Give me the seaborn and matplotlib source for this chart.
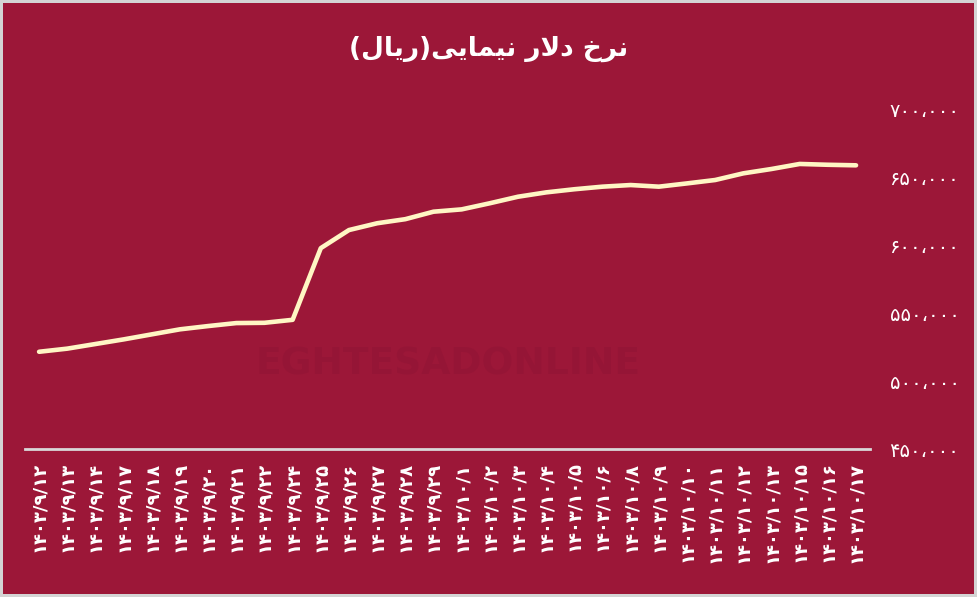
import matplotlib.pyplot as plt
import pandas as pd
import seaborn as sns

# Persian dates (1403/09/12 .. 1403/10/17)
dates = [
    "۱۴۰۳/۹/۱۲", "۱۴۰۳/۹/۱۳", "۱۴۰۳/۹/۱۴", "۱۴۰۳/۹/۱۷", "۱۴۰۳/۹/۱۸",
    "۱۴۰۳/۹/۱۹", "۱۴۰۳/۹/۲۰", "۱۴۰۳/۹/۲۱", "۱۴۰۳/۹/۲۲", "۱۴۰۳/۹/۲۴",
    "۱۴۰۳/۹/۲۵", "۱۴۰۳/۹/۲۶", "۱۴۰۳/۹/۲۷", "۱۴۰۳/۹/۲۸", "۱۴۰۳/۹/۲۹",
    "۱۴۰۳/۱۰/۱", "۱۴۰۳/۱۰/۲", "۱۴۰۳/۱۰/۳", "۱۴۰۳/۱۰/۴", "۱۴۰۳/۱۰/۵",
    "۱۴۰۳/۱۰/۶", "۱۴۰۳/۱۰/۸", "۱۴۰۳/۱۰/۹", "۱۴۰۳/۱۰/۱۰", "۱۴۰۳/۱۰/۱۱",
    "۱۴۰۳/۱۰/۱۲", "۱۴۰۳/۱۰/۱۳", "۱۴۰۳/۱۰/۱۵", "۱۴۰۳/۱۰/۱۶", "۱۴۰۳/۱۰/۱۷",
]
# NIMA dollar rate in rial
rate = [
    521500, 523800, 527200, 530600, 534300, 538000, 540400, 542600, 542800, 545000,
    597700, 611000, 616000, 619000, 624500, 626200, 630700, 635500, 638700, 641000,
    642900, 644100, 642900, 645300, 647800, 652700, 655900, 659600, 659000, 658600,
]
y_ticks = [450000, 500000, 550000, 600000, 650000, 700000]
y_tick_labels = ["۴۵۰،۰۰۰", "۵۰۰،۰۰۰", "۵۵۰،۰۰۰", "۶۰۰،۰۰۰", "۶۵۰،۰۰۰", "۷۰۰،۰۰۰"]

# title "نرخ دلار نیمایی(ریال)" written with presentation forms in visual order
# (matplotlib does no arabic shaping / bidi)
title = ("(" + "\uFEDD\uFE8E\uFEF3\uFEAD" + ")"
         + "\uFEF0\uFEF3\uFE8E\uFEE4\uFEF4\uFEE7" + " "
         + "\uFEAD\uFEFB\uFEA9" + " "
         + "\uFEA5\uFEAE\uFEE7")

bg = "#9C1738"
line_color = "#FFF6C4"

sns.set_theme(style="white")
plt.rcParams["font.family"] = ["DejaVu Sans"]

df = pd.DataFrame({"pos": range(len(dates)), "rate": rate})

fig = plt.figure(figsize=(9.77, 5.97), dpi=100)
fig.patch.set_facecolor(bg)
fig.patch.set_edgecolor("#d4d4d4")
fig.patch.set_linewidth(4)

ax = fig.add_axes([0.0256, 0.2479, 0.865, 0.5695])
ax.set_facecolor(bg)

# faint watermark
ax.text(0.5, 0.25, "EGHTESADONLINE", transform=ax.transAxes, ha="center", va="center",
        fontsize=27, fontweight="bold", color="#951536", zorder=0)

sns.lineplot(data=df, x="pos", y="rate", ax=ax, color=line_color, linewidth=3.3,
             sort=False, solid_joinstyle="round", solid_capstyle="round")

ax.set_xlim(-0.5, len(dates) - 0.5)
ax.set_ylim(450000, 700000)
ax.set_xticks(range(len(dates)))
ax.set_xticklabels(dates, rotation=90, color="white", fontsize=13, fontweight="bold")
ax.yaxis.tick_right()
ax.set_yticks(y_ticks)
ax.set_yticklabels(y_tick_labels, color="white", fontsize=14)
ax.tick_params(axis="x", length=0, pad=9)
ax.tick_params(axis="y", length=0, pad=14)
ax.set_xlabel("")
ax.set_ylabel("")

for side in ["top", "left", "right"]:
    ax.spines[side].set_visible(False)
ax.spines["bottom"].set_color("#d9d9d9")
ax.spines["bottom"].set_linewidth(2)

fig.text(0.5, 0.918, title, ha="center", va="center", color="white",
         fontsize=19, fontweight="bold")

fig.savefig("out.png", dpi=100, facecolor=bg, edgecolor="#d4d4d4")
